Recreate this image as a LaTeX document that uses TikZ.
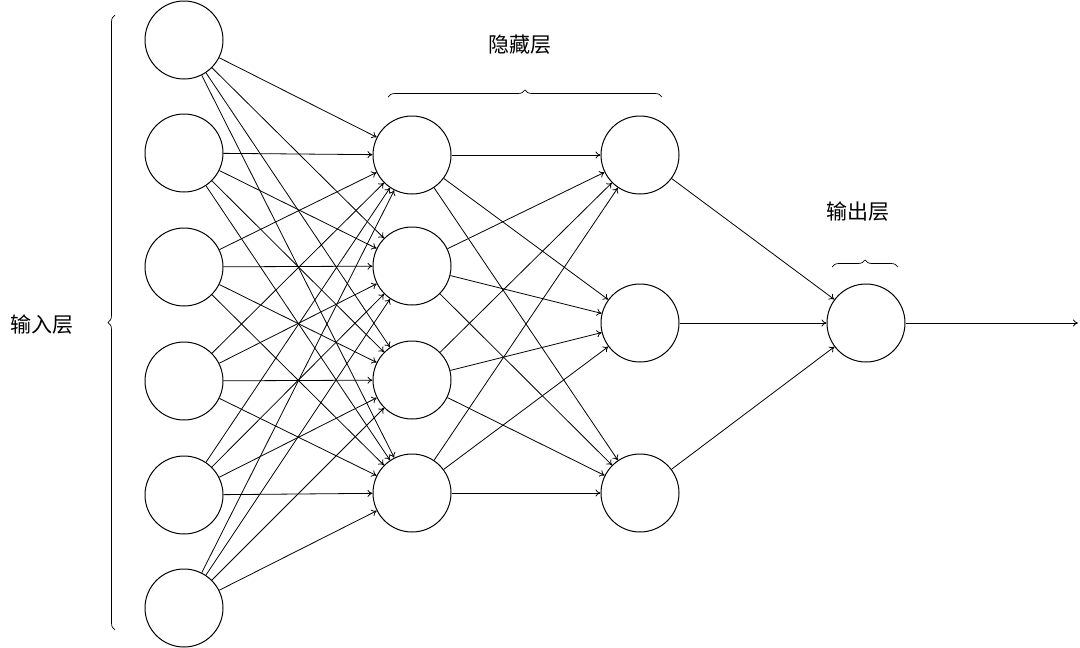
\documentclass[tikz,border=0pt]{standalone}
\usepackage{fontspec}
\newfontfamily\cjk{Noto Sans CJK SC}
\usetikzlibrary{decorations.pathreplacing,arrows.meta}
\begin{document}
\begin{tikzpicture}[x=1pt,y=-1pt,
  neuron/.style={circle,draw,line width=1pt,minimum size=78pt,inner sep=0pt},
  conn/.style={-{To[length=5pt,width=7pt]},line width=0.8pt},
  lab/.style={font=\cjk\fontsize{21}{24}\selectfont},
  brc/.style={decorate,decoration={brace,amplitude=7pt},line width=0.7pt}]
\useasboundingbox (0,0) rectangle (1080,648);
\foreach \i/\y in {1/40,2/153,3/267,4/381,5/495,6/608}
  \node[neuron] (i\i) at (184,\y) {};
\foreach \i/\y in {1/155,2/266,3/380,4/493}
  \node[neuron] (h\i) at (412,\y) {};
\foreach \i/\y in {1/155,2/323,3/493}
  \node[neuron] (g\i) at (640,\y) {};
\node[neuron] (o) at (866,323) {};
\coordinate (end) at (1078,323);
\foreach \a in {1,...,6}\foreach \b in {1,...,4} \draw[conn] (i\a) -- (h\b);
\foreach \a in {1,...,4}\foreach \b in {1,2,3} \draw[conn] (h\a) -- (g\b);
\foreach \a in {1,2,3} \draw[conn] (g\a) -- (o);
\draw[conn] (o) -- (end);
\coordinate (b1) at (115,630); \coordinate (b2) at (115,15);
\draw[brc] (b1) -- (b2);
\node[lab] (l1) at (42,325) {输入层};
\coordinate (c1) at (388,97); \coordinate (c2) at (662,97);
\draw[brc] (c1) -- (c2);
\node[lab] (l2) at (520,45) {隐藏层};
\coordinate (d1) at (832,267); \coordinate (d2) at (898,267);
\draw[brc] (d1) -- (d2);
\node[lab] (l3) at (858,212) {输出层};
\end{tikzpicture}
\end{document}
